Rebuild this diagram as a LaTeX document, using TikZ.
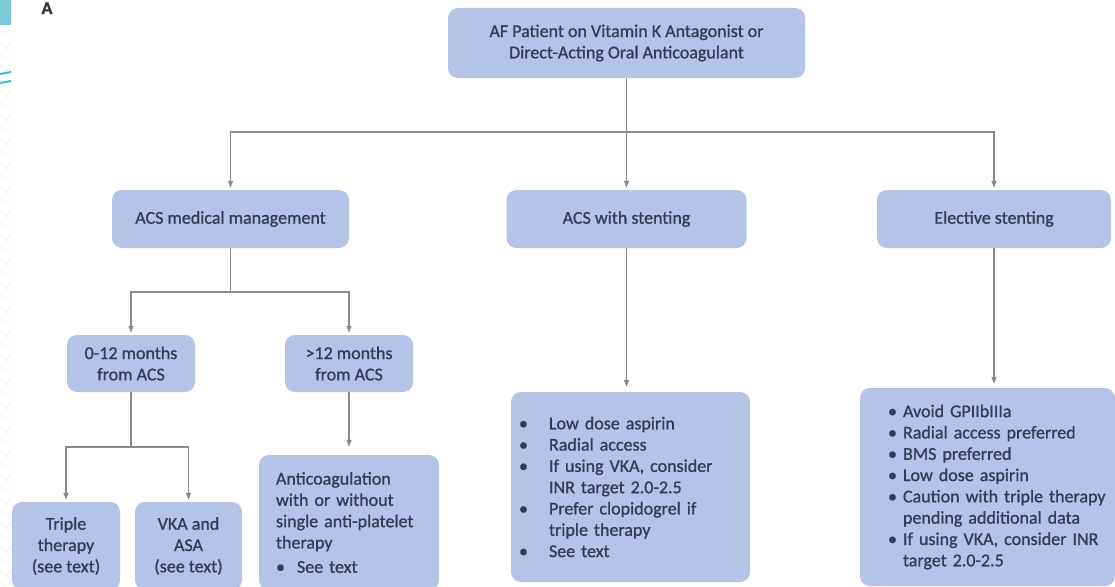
\documentclass[tikz,border=0pt]{standalone}
\usepackage{fontspec}
\setmainfont{Carlito}[FakeBold=0.9]
\usetikzlibrary{arrows.meta}
\definecolor{boxfill}{HTML}{B4C3E7}
\definecolor{txt}{HTML}{363B55}
\definecolor{ln}{HTML}{8A8A8A}
\definecolor{tealA}{HTML}{7CC8D6}
\definecolor{tealB}{HTML}{3BBCD0}
\newcommand{\bitem}[2]{\mbox{\makebox[#1][l]{\textbullet}#2}}
\newcommand{\bcont}[2]{\mbox{\hspace*{#1}#2}}
\begin{document}
\begin{tikzpicture}[x=1pt,y=-1pt,
  box/.style={fill=boxfill, rounded corners=10pt, text=txt,
    font=\fontsize{18}{21.3}\selectfont, align=center, inner sep=0pt},
  conn/.style={draw=ln, line width=1.4pt},
  arr/.style={conn, -{Triangle[length=7pt,width=5pt]}, shorten >=2pt}]
\useasboundingbox (0,0) rectangle (1115,586);
\clip (0,0) rectangle (1115,586);
\fill[white] (0,0) rectangle (1115,586);

% slide decoration
\foreach \yy in {30,42,...,586} \draw[black!4, line width=1pt] (0,\yy) -- (5.5,\yy+6) -- (11,\yy);
\fill[tealA] (0,0) rectangle (11,25);
\draw[tealB, line width=2pt] (0,74) -- (11,72);
\draw[tealB, line width=2pt] (0,83) -- (11,81);
\node[font=\fontsize{18}{18}\selectfont\bfseries, text=black!80, anchor=base] (lblA) at (47,14) {A};

% boxes
\node[box, minimum width=357pt, minimum height=70pt] (top) at (626.5,43)
  {AF Patient on Vitamin K Antagonist or\\Direct-Acting Oral Anticoagulant};
\node[box, minimum width=237pt, minimum height=58pt] (med) at (230.5,219) {ACS medical management};
\node[box, minimum width=240pt, minimum height=58pt] (stent) at (626.5,219) {ACS with stenting};
\node[box, minimum width=234pt, minimum height=58pt] (elect) at (994,219) {Elective stenting};
\node[box, minimum width=128pt, minimum height=57pt] (m012) at (131,363.5) {0-12 months\\from ACS};
\node[box, minimum width=128pt, minimum height=57pt] (m12) at (349,363.5) {>12 months\\from ACS};
\node[box, minimum width=108pt, minimum height=88pt] (triple) at (66,546) {Triple\\therapy\\(see text)};
\node[box, minimum width=107pt, minimum height=88pt] (vka) at (188.5,546) {VKA and\\ASA\\(see text)};
\node[box, minimum height=135pt, align=left, inner xsep=17pt, text width=146pt] (anti) at (349,522.5)
  {\mbox{Anticoagulation}\\\mbox{with or without}\\\mbox{single anti-platelet}\\\mbox{therapy}\\[3pt]\bitem{21pt}{See text}};
\node[box, minimum height=190pt, align=left, inner xsep=8pt, text width=223pt] (sbox) at (630.5,487)
  {\bitem{30pt}{Low dose aspirin}\\
   \bitem{30pt}{Radial access}\\
   \bitem{30pt}{If using VKA, consider}\\
   \bcont{30pt}{INR target 2.0-2.5}\\
   \bitem{30pt}{Prefer clopidogrel if}\\
   \bcont{30pt}{triple therapy}\\
   \bitem{30pt}{See text}};
\node[box, minimum height=198pt, align=left, inner xsep=28pt, text width=199pt] (ebox) at (987.5,487)
  {\bitem{15pt}{Avoid GPIIbIIIa}\\
   \bitem{15pt}{Radial access preferred}\\
   \bitem{15pt}{BMS preferred}\\
   \bitem{15pt}{Low dose aspirin}\\
   \bitem{15pt}{Caution with triple therapy}\\
   \bcont{15pt}{pending additional data}\\
   \bitem{15pt}{If using VKA, consider INR}\\
   \bcont{15pt}{target 2.0-2.5}};

% connectors
\coordinate (hub) at (626.5,132);
\draw[conn] (top.south) -- (hub);
\draw[arr] (hub) -| (med.north);
\draw[arr] (hub) -- (stent.north);
\draw[arr] (hub) -| (elect.north);
\coordinate (h2) at (230.5,292);
\draw[conn] (med.south) -- (h2);
\draw[arr] (h2) -| (m012.north);
\draw[arr] (h2) -| (m12.north);
\coordinate (h3) at (131,447);
\draw[conn] (m012.south) -- (h3);
\draw[arr] (h3) -| (triple.north);
\draw[arr] (h3) -| (vka.north);
\draw[arr, shorten >=8pt] (m12.south) -- (m12.south |- anti.north);
\draw[arr, shorten >=5pt] (stent.south) -- (stent.south |- sbox.north);
\draw[arr, shorten >=4pt] (elect.south) -- (elect.south |- ebox.north);
\end{tikzpicture}
\end{document}
